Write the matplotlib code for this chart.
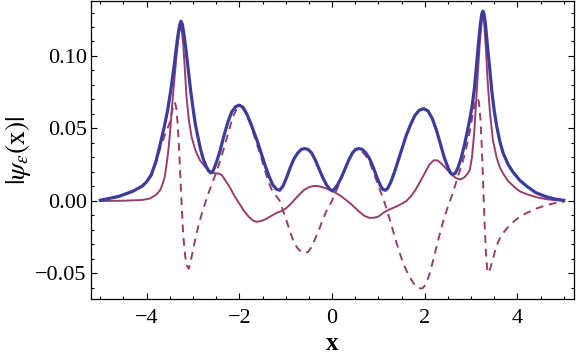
import matplotlib
matplotlib.use("Agg")
import matplotlib.pyplot as plt
from matplotlib.ticker import MultipleLocator, FuncFormatter

plt.rcParams.update({
    "font.family": "Liberation Serif", "mathtext.fontset": "stix",
    "font.size": 16,
})
BLUE = "#3d3d99"; PURPLE = "#993d71"

# |psi(x)|
abs_x = [-5.0, -4.6, -4.3, -4.1, -4.0, -3.9, -3.8, -3.7, -3.62, -3.55, -3.48, -3.42, -3.37, -3.33, -3.29,
         -3.26, -3.23, -3.19, -3.15, -3.1, -3.05, -3.0, -2.95, -2.9, -2.84, -2.78, -2.72, -2.66, -2.61,
         -2.56, -2.5, -2.42, -2.34, -2.25, -2.17, -2.08, -2.0, -1.92, -1.84, -1.76, -1.68, -1.6, -1.52,
         -1.44, -1.36, -1.28, -1.2, -1.13, -1.06, -0.98, -0.9, -0.82, -0.74, -0.66, -0.59, -0.52, -0.44,
         -0.36, -0.28, -0.2, -0.12, -0.05, 0.0, 0.05, 0.12, 0.2, 0.28, 0.36, 0.44, 0.51, 0.58, 0.65,
         0.73, 0.81, 0.89, 0.97, 1.05, 1.1, 1.15, 1.2, 1.27, 1.35, 1.43, 1.52, 1.6, 1.7, 1.79, 1.88,
         1.98, 2.07, 2.16, 2.25, 2.34, 2.42, 2.5, 2.56, 2.61, 2.66, 2.72, 2.79, 2.86, 2.92, 2.97, 3.02,
         3.07, 3.11, 3.16, 3.2, 3.23, 3.255, 3.28, 3.31, 3.35, 3.4, 3.45, 3.5, 3.55, 3.62, 3.69, 3.8,
         3.9, 4.05, 4.2, 4.4, 4.6, 4.8, 5.0]
abs_y = [0.0003, 0.003, 0.0065, 0.010, 0.013, 0.018, 0.027, 0.040, 0.051, 0.062, 0.076, 0.090, 0.103, 0.113, 0.121,
         0.124, 0.122, 0.114, 0.104, 0.090, 0.076, 0.064, 0.053, 0.045, 0.036, 0.029, 0.024, 0.0205, 0.0192,
         0.021, 0.026, 0.034, 0.044, 0.054, 0.061, 0.065, 0.066, 0.0645, 0.060, 0.054, 0.047, 0.040, 0.032,
         0.024, 0.017, 0.011, 0.008, 0.0072, 0.010, 0.016, 0.023, 0.029, 0.033, 0.0355, 0.036, 0.0355, 0.033,
         0.028, 0.022, 0.016, 0.011, 0.008, 0.0068, 0.008, 0.011, 0.016, 0.022, 0.028, 0.033, 0.0355, 0.036, 0.0355,
         0.033, 0.029, 0.023, 0.016, 0.010, 0.0078, 0.0072, 0.0085, 0.013, 0.020, 0.028, 0.037, 0.045, 0.053, 0.059, 0.0625,
         0.0636, 0.062, 0.057, 0.049, 0.039, 0.030, 0.023, 0.019, 0.0183, 0.019, 0.023, 0.030, 0.039, 0.048, 0.056, 0.065,
         0.077, 0.091, 0.109, 0.122, 0.129, 0.131, 0.129, 0.122, 0.108, 0.092, 0.075, 0.062, 0.052, 0.041, 0.033, 0.025,
         0.020, 0.0141, 0.010, 0.0055, 0.003, 0.0012, 0.0003]

# Re psi(x)
re_x = [-5.0, -4.5, -4.1, -3.93, -3.8, -3.71, -3.65, -3.61, -3.57, -3.53, -3.49, -3.46, -3.42, -3.39,
        -3.35, -3.32, -3.29, -3.27, -3.24, -3.21, -3.18, -3.14, -3.09, -3.03, -2.95, -2.85, -2.74, -2.64,
        -2.55, -2.45, -2.38, -2.3, -2.2, -2.1, -2.0, -1.9, -1.8, -1.7, -1.62, -1.5, -1.4, -1.3, -1.2,
        -1.1, -1.0, -0.9, -0.8, -0.7, -0.6, -0.5, -0.4, -0.3, -0.2, -0.1, 0.0, 0.1, 0.2, 0.3, 0.4, 0.5,
        0.6, 0.7, 0.8, 0.9, 1.0, 1.1, 1.15, 1.2, 1.3, 1.4, 1.5, 1.6, 1.7, 1.8, 1.9, 2.0, 2.1, 2.2, 2.28,
        2.38, 2.48, 2.58, 2.68, 2.77, 2.85, 2.92, 2.97, 3.02, 3.07, 3.11, 3.15, 3.19, 3.23, 3.255, 3.28,
        3.32, 3.36, 3.41, 3.47, 3.55, 3.62, 3.69, 3.8, 3.95, 4.05, 4.2, 4.4, 4.6, 4.8, 5.0]
re_y = [-0.0002, 0.0, 0.0005, 0.0015, 0.004, 0.0072, 0.012, 0.0164, 0.025, 0.035, 0.049, 0.062, 0.077, 0.088,
        0.102, 0.111, 0.118, 0.121, 0.117, 0.108, 0.093, 0.072, 0.056, 0.044, 0.035, 0.028, 0.0235, 0.0205,
        0.019, 0.0188, 0.0178, 0.014, 0.009, 0.003, -0.002, -0.007, -0.011, -0.0138, -0.0146, -0.0137, -0.0122, -0.0103, -0.0085,
        -0.0072, -0.0055, -0.0025, 0.001, 0.0045, 0.0075, 0.0093, 0.0102, 0.0101, 0.0093, 0.0082, 0.0068, 0.005, 0.003, 0.0005, -0.002, -0.005,
        -0.008, -0.0105, -0.0118, -0.0118, -0.011, -0.0085, -0.0075, -0.0066, -0.0052, -0.0038, -0.0022, -0.0003, 0.003, 0.0075, 0.013, 0.019, 0.025, 0.028, 0.0278,
        0.025, 0.0215, 0.018, 0.0155, 0.0147, 0.016, 0.0185, 0.021, 0.03, 0.048, 0.069, 0.09, 0.11, 0.124, 0.128, 0.124,
        0.105, 0.081, 0.06, 0.042, 0.03, 0.023, 0.0188, 0.0135, 0.009, 0.0065, 0.0045, 0.0025, 0.0012, 0.0004, 0.0]

# Im psi(x)
im_x = [-5.0, -4.5, -4.1, -4.0, -3.9, -3.8, -3.7, -3.6, -3.5, -3.45, -3.41, -3.39, -3.36, -3.33, -3.3,
        -3.27, -3.24, -3.21, -3.17, -3.13, -3.09, -3.05, -3.0, -2.94, -2.88, -2.8, -2.72, -2.64, -2.55,
        -2.46, -2.38, -2.3, -2.22, -2.14, -2.06, -2.0, -1.92, -1.84, -1.76, -1.68, -1.6, -1.52, -1.44,
        -1.36, -1.28, -1.2, -1.13, -1.06, -0.98, -0.9, -0.82, -0.74, -0.66, -0.6, -0.52, -0.44, -0.36,
        -0.28, -0.2, -0.12, -0.05, 0.0, 0.05, 0.12, 0.2, 0.28, 0.36, 0.44, 0.51, 0.58, 0.65, 0.73, 0.81,
        0.89, 0.97, 1.05, 1.12, 1.2, 1.3, 1.4, 1.5, 1.6, 1.7, 1.8, 1.88, 1.95, 2.02, 2.1, 2.2, 2.3, 2.4,
        2.5, 2.58, 2.66, 2.74, 2.82, 2.9, 2.98, 3.04, 3.1, 3.14, 3.17, 3.2, 3.23, 3.26, 3.29, 3.32, 3.35,
        3.38, 3.42, 3.48, 3.54, 3.62, 3.7, 3.8, 3.9, 4.05, 4.2, 4.4, 4.6, 4.8, 5.0]
im_y = [0.0002, 0.0035, 0.0098, 0.013, 0.017, 0.026, 0.037, 0.046, 0.054, 0.062, 0.067, 0.068, 0.064, 0.053, 0.036,
        0.015, -0.006, -0.024, -0.038, -0.045, -0.047, -0.042, -0.034, -0.025, -0.017, -0.008, 0.0, 0.0075, 0.015,
        0.023, 0.031, 0.040, 0.049, 0.058, 0.063, 0.065, 0.064, 0.059, 0.053, 0.045, 0.037, 0.029, 0.020,
        0.012, 0.006, 0.003, 0.0, -0.0066, -0.014, -0.022, -0.029, -0.033, -0.0355, -0.0362, -0.0355, -0.032, -0.026,
        -0.020, -0.013, -0.007, -0.003, 0.0, 0.004, 0.009, 0.015, 0.022, 0.028, 0.033, 0.035, 0.0355, 0.034, 0.031, 0.027,
        0.020, 0.013, 0.006, 0.0, -0.008, -0.019, -0.030, -0.040, -0.048, -0.054, -0.059, -0.0605, -0.0606, -0.058, -0.051, -0.039, -0.026, -0.014,
        -0.004, 0.003, 0.011, 0.019, 0.027, 0.037, 0.049, 0.061, 0.069, 0.071, 0.068, 0.057, 0.038, 0.012, -0.014, -0.036, -0.048,
        -0.050, -0.046, -0.039, -0.032, -0.026, -0.022, -0.018, -0.015, -0.011, -0.0085, -0.0055, -0.0033, -0.0017, -0.001]

fig = plt.figure(figsize=(5.76, 3.57), dpi=100)
ax = fig.add_axes([0.158, 0.1625, 0.8385, 0.836])

ax.plot(re_x, re_y, color=PURPLE, lw=1.4, zorder=2)
ax.plot(im_x, im_y, color=PURPLE, lw=1.4, ls=(0, (4, 3)), zorder=2)
ax.plot(abs_x, abs_y, color=BLUE, lw=2.3, zorder=3, solid_joinstyle="round")

ax.set_xlim(-5.2, 5.22)
ax.set_ylim(-0.0679, 0.1383)
ax.xaxis.set_major_locator(MultipleLocator(2))
ax.xaxis.set_minor_locator(MultipleLocator(0.5))
ax.yaxis.set_major_locator(MultipleLocator(0.05))
ax.yaxis.set_minor_locator(MultipleLocator(0.01))
ax.yaxis.set_major_formatter(FuncFormatter(lambda v, p: f"{v:.2f}".replace("-", "\u2212")))
ax.tick_params(which="both", direction="in", top=True, right=True, width=0.8)
ax.tick_params(which="major", length=4.3, pad=3)
ax.tick_params(axis="x", which="major", pad=7)
ax.tick_params(which="minor", length=2.5)
for s in ax.spines.values():
    s.set_linewidth(0.9)

ax.set_xlabel("x", fontweight="bold", fontsize=18, labelpad=3)
ax.set_ylabel(r"$|\psi_{\epsilon}(\mathrm{x})|$", fontsize=20, labelpad=2)

fig.savefig("out.png", dpi=100)
